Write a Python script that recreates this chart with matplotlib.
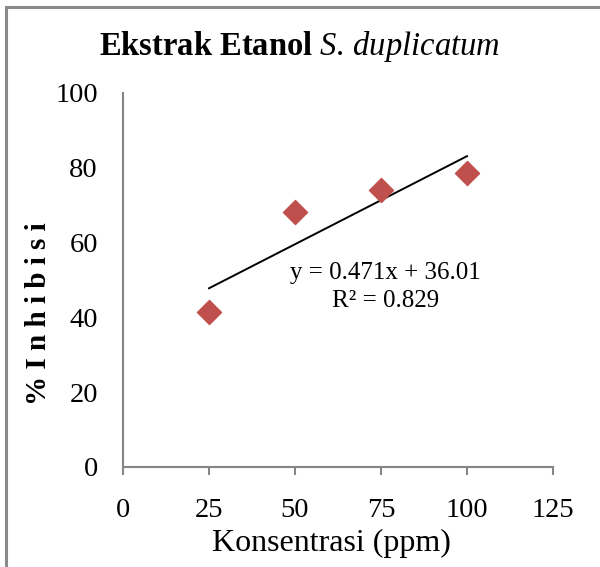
import numpy as np
import matplotlib.pyplot as plt
from matplotlib.patches import Rectangle

# Data
konsentrasi = [25, 50, 75, 100]
inhibisi = [41.5, 68.2, 74.0, 78.7]
slope = 0.471
intercept = 36.01
r_squared = 0.829
x_ticks = [0, 25, 50, 75, 100, 125]
y_ticks = [0, 20, 40, 60, 80, 100]

plt.rcParams['font.family'] = ['Liberation Serif', 'DejaVu Serif']
plt.rcParams['mathtext.fontset'] = 'custom'
plt.rcParams['mathtext.rm'] = 'Liberation Serif'
plt.rcParams['mathtext.it'] = 'Liberation Serif:italic'
plt.rcParams['mathtext.bf'] = 'Liberation Serif:bold'

fig = plt.figure(figsize=(6, 5.67), dpi=100)
ax = fig.add_axes([0.205, 0.1764, 0.7167, 0.6596])

# Chart area border
fig.patches.append(Rectangle((5.5 / 600, -0.1), 1.2, (567 - 7) / 567 + 0.1,
                             transform=fig.transFigure, fill=False,
                             edgecolor='#8a8a8a', linewidth=2.2))

ax.scatter(konsentrasi, inhibisi, marker='D', s=150, color='#C0504D',
           edgecolors='#C0504D', zorder=3)

# Linear trendline
x_line = np.array([konsentrasi[0], konsentrasi[-1]])
ax.plot(x_line, slope * x_line + intercept, color='black', linewidth=1.4)

ax.text(76.2, 48.0, f"y = {slope}x + {intercept}\nR² = {r_squared}",
        ha='center', va='center', fontsize=18, linespacing=1.35)

ax.set_xlim(0, 125)
ax.set_ylim(0, 100)
ax.set_xticks(x_ticks)
ax.set_yticks(y_ticks)
ax.tick_params(axis='x', direction='out', length=6, width=1.5, color='#868686',
               labelsize=20.5, pad=16)
ax.tick_params(axis='y', length=0, labelsize=20.5, pad=18)

for side in ['top', 'right']:
    ax.spines[side].set_visible(False)
for side in ['left', 'bottom']:
    ax.spines[side].set_color('#868686')
    ax.spines[side].set_linewidth(1.5)

ax.set_xlabel("Konsentrasi (ppm)", fontsize=23)
ax.xaxis.set_label_coords(0.485, -0.165)
ax.set_ylabel("% I n h i b i s i", fontsize=21, fontweight='bold')
ax.yaxis.set_label_coords(-0.165, 0.41)

fig.text(0.5, 0.918, r"$\mathbf{Ekstrak\ Etanol}\ \mathit{S.\,duplicatum}$",
         ha='center', va='center', fontsize=23.5)

fig.savefig("out.png", dpi=100)
